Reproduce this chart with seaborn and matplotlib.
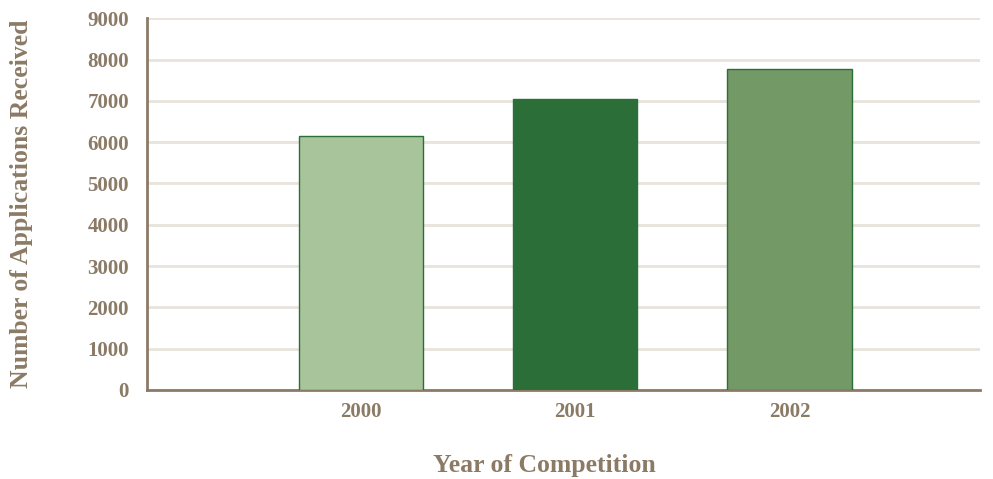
import matplotlib
matplotlib.use("Agg")
import matplotlib.pyplot as plt
import seaborn as sns
import pandas as pd

# Applications received per competition year
years = ["2000", "2001", "2002"]
applications = [6150, 7040, 7770]
bar_colors = ["#A8C49A", "#2C6E37", "#739966"]
y_ticks = [0, 1000, 2000, 3000, 4000, 5000, 6000, 7000, 8000, 9000]

TEXT = "#8B7B66"
GRID = "#E8E4DC"
EDGE = "#2C6E37"

sns.set_style("white")
plt.rcParams["font.family"] = ["Liberation Serif", "DejaVu Serif"]
plt.rcParams["font.weight"] = "bold"

df = pd.DataFrame({"year": years, "applications": applications})

fig = plt.figure(figsize=(9.93, 4.79), dpi=100)
ax = fig.add_axes([0.148, 0.186, 0.839, 0.776])

sns.barplot(data=df, x="year", y="applications", hue="year",
            palette=bar_colors, saturation=1, width=0.58, edgecolor=EDGE,
            linewidth=1.0, legend=False, ax=ax, zorder=3)

ax.set_xlim(-1.0, 2.89)
ax.set_ylim(0, 9000)
ax.set_yticks(y_ticks)
ax.set_yticklabels([str(t) for t in y_ticks])

ax.yaxis.grid(True, color=GRID, linewidth=2, zorder=0)
ax.set_axisbelow(True)

for side in ("top", "right"):
    ax.spines[side].set_visible(False)
for side in ("left", "bottom"):
    ax.spines[side].set_color(TEXT)
    ax.spines[side].set_linewidth(2)

ax.tick_params(axis="y", length=7, width=2, colors=TEXT, labelsize=15, pad=6)
ax.tick_params(axis="y", color=GRID)
ax.tick_params(axis="x", length=0, colors=TEXT, labelsize=15, pad=9)
for lbl in ax.get_xticklabels() + ax.get_yticklabels():
    lbl.set_fontweight("bold")

ax.set_xlabel("Year of Competition", fontsize=18.5, fontweight="bold",
              color=TEXT, va="center")
ax.xaxis.set_label_coords(0.477, -0.204)
ax.set_ylabel("Number of Applications Received", fontsize=18.5,
              fontweight="bold", color=TEXT, va="center")
ax.yaxis.set_label_coords(-0.150, 0.5)

fig.savefig("out.png", dpi=100, facecolor="white")
